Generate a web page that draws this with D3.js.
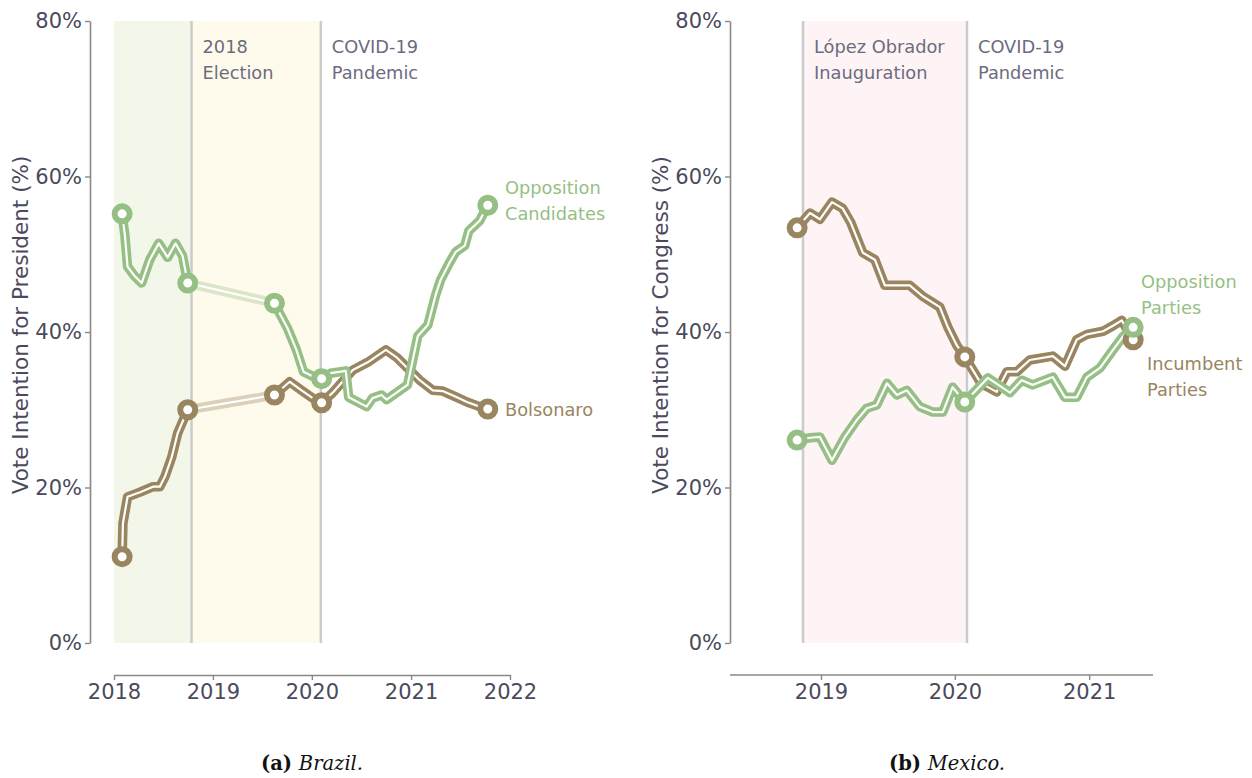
<!DOCTYPE html>
<html>
<head>
<meta charset="utf-8">
<script src="https://cdn.jsdelivr.net/npm/d3@7"></script>
<style>
  body { margin: 0; background: #fff; }
  text { font-family: "DejaVu Sans", sans-serif; }
</style>
</head>
<body>
<svg id="chart" width="1252" height="778"></svg>
<script>
// ---- Brazil: vote intention for president ----
var brOppDates = ["2018-01-31","2018-02-10","2018-02-20","2018-03-18","2018-04-13","2018-05-13","2018-06-15",
  "2018-07-18","2018-08-16","2018-09-11","2018-09-30",
  "2019-08-16","2019-09-04","2019-10-03","2019-11-05","2019-12-01","2020-01-04","2020-02-06","2020-03-10",
  "2020-05-05","2020-05-16","2020-07-21","2020-08-12","2020-09-14","2020-10-03","2020-12-19","2021-01-26",
  "2021-03-04","2021-04-02","2021-04-20","2021-05-24","2021-06-15","2021-07-18","2021-08-02","2021-09-11","2021-10-11"];
var brOppValues = [55.2,52.5,48.4,47.2,46.3,49.3,51.4,49.6,51.4,49.8,46.3,
  43.7,42.4,40.5,37.7,34.9,34.3,34.0,34.7,35.0,31.6,30.4,31.5,31.9,31.3,33.2,39.5,
  40.9,44.8,46.7,49.0,50.3,51.1,53.0,54.3,56.3];

var brBolDates = ["2018-01-31","2018-02-03","2018-02-20","2018-04-07","2018-05-25","2018-06-19","2018-07-08",
  "2018-08-02","2018-08-24","2018-09-30",
  "2019-08-16","2019-10-11","2019-11-28","2020-01-04","2020-02-06","2020-03-18","2020-05-31","2020-07-25",
  "2020-09-30","2020-11-10","2021-02-02","2021-03-22","2021-04-28","2021-06-19","2021-07-26","2021-09-11","2021-10-11"];
var brBolValues = [11.1,15.4,18.8,19.4,20.1,20.1,21.4,23.9,27.0,30.0,
  31.9,33.6,32.4,31.5,30.9,32.2,35.1,36.1,37.7,36.7,33.8,32.5,32.4,31.6,31.0,30.4,30.1];

var brGap = ["2018-09-30", "2019-08-16"];          // no polls between these dates
var brMarkers = ["2018-01-31","2018-09-30","2019-08-16","2020-02-06","2021-10-11"];
var brDomain = ["2018-01-01", "2022-01-01"];
var brTicks = ["2018","2019","2020","2021","2022"];
var brEvents = [
  {start: "2018-01-01", end: "2018-10-14", fill: "#f3f7ea", lines: []},
  {start: "2018-10-14", end: "2020-02-03", fill: "#fffbec", lines: ["2018", "Election"]},
  {start: "2020-02-03", end: null, fill: null, lines: ["COVID-19", "Pandemic"]}
];

// ---- Mexico: vote intention for congress ----
var mxIncDates = ["2018-10-28","2018-12-02","2018-12-29","2019-01-31","2019-03-01","2019-03-23","2019-04-25",
  "2019-05-28","2019-06-24","2019-08-31","2019-10-05","2019-11-21","2019-12-13","2020-01-06","2020-01-28",
  "2020-03-12","2020-04-24","2020-05-22","2020-06-18","2020-07-23","2020-09-24","2020-10-27","2020-11-28",
  "2020-12-26","2021-02-08","2021-03-07","2021-03-31","2021-05-01"];
var mxIncValues = [53.4,55.3,54.5,56.7,55.9,54.1,50.2,49.3,46.0,46.0,44.6,43.2,40.6,38.3,36.8,
  33.4,32.3,34.9,34.9,36.4,36.9,35.6,39.0,39.7,40.1,40.8,41.5,39.0];

var mxOppDates = ["2018-10-28","2018-12-02","2018-12-29","2019-01-31","2019-03-06","2019-04-09","2019-05-06",
  "2019-06-02","2019-06-30","2019-07-27","2019-08-23","2019-09-27","2019-11-02","2019-11-29","2019-12-26",
  "2020-01-28","2020-03-31","2020-05-30","2020-07-01","2020-07-31","2020-09-24","2020-10-27","2020-11-28",
  "2020-12-26","2021-01-31","2021-03-07","2021-04-03","2021-05-01"];
var mxOppValues = [26.1,26.4,26.5,23.5,26.4,28.7,30.2,30.6,33.4,31.9,32.5,30.4,29.7,29.7,32.9,
  31.0,34.1,32.2,33.8,33.2,34.2,31.6,31.6,34.2,35.4,37.7,39.4,40.6];

var mxMarkers = ["2018-10-28","2020-01-28","2021-05-01"];
var mxDomain = ["2018-04-28", "2021-06-24"];
var mxTicks = ["2019","2020","2021"];
var mxEvents = [
  {start: "2018-11-13", end: "2020-02-03", fill: "#fef4f5", lines: ["López Obrador", "Inauguration"]},
  {start: "2020-02-03", end: null, fill: null, lines: ["COVID-19", "Pandemic"]}
];

var yTicks = [0, 20, 40, 60, 80];

var green = "#96bf85", brown = "#99855f";
var tickColor = "#4b4a5c", noteColor = "#6d6b7f", axisColor = "#888";

var parseDate = d3.timeParse("%Y-%m-%d");
var parseYear = d3.timeParse("%Y");
var svg = d3.select("#chart");

function toPoints(dates, values) {
  return dates.map(function(d, i) { return {date: parseDate(d), value: values[i], key: d}; });
}

function drawPanel(p) {
  var g = svg.append("g");
  var x = d3.scaleTime()
      .domain(p.domain.map(parseDate))
      .range([p.xLeft, p.xRight]);
  var y = d3.scaleLinear().domain([0, 80]).range([643, 21]);

  // event shading and lines
  p.events.forEach(function(e) {
    var x0 = x(parseDate(e.start));
    if (e.fill) {
      g.append("rect")
          .attr("x", x0).attr("y", y(80))
          .attr("width", x(parseDate(e.end)) - x0)
          .attr("height", y(0) - y(80))
          .attr("fill", e.fill);
    }
  });
  p.events.forEach(function(e) {
    if (!e.lines.length) return;
    var x0 = x(parseDate(e.start));
    g.append("line")
        .attr("x1", x0).attr("x2", x0)
        .attr("y1", y(80)).attr("y2", y(0))
        .attr("stroke", "#cbcbcb").attr("stroke-width", 2.5);
    e.lines.forEach(function(t, i) {
      g.append("text")
          .attr("x", x0 + 11).attr("y", 53 + i * 25.5)
          .attr("fill", noteColor).attr("font-size", 17.8)
          .text(t);
    });
  });

  // axes
  var yAxis = g.append("g")
      .attr("transform", "translate(" + p.yAxisX + ",0)")
      .call(d3.axisLeft(y).tickValues(yTicks).tickSize(5).tickSizeOuter(0).tickPadding(3)
        .tickFormat(function(d) { return d + "%"; }));
  var xAxis = g.append("g")
      .attr("transform", "translate(0,675)")
      .call(d3.axisBottom(x).tickValues(p.ticks.map(parseYear)).tickSize(5).tickSizeOuter(0).tickPadding(4)
        .tickFormat(d3.timeFormat("%Y")));
  if (p.xAxisFromY) {
    xAxis.select(".domain").attr("d", "M" + p.yAxisX + ",0H" + p.xRight);
  }
  [yAxis, xAxis].forEach(function(a) {
    a.selectAll(".domain").attr("stroke", axisColor).attr("stroke-width", 1.6);
    a.selectAll(".tick line").attr("stroke", axisColor).attr("stroke-width", 1.4);
    a.selectAll(".tick text").attr("fill", tickColor).attr("font-size", 21)
        .style("font-family", "DejaVu Sans");
  });

  g.append("text")
      .attr("transform", "translate(" + (p.yAxisX - 62) + ",325) rotate(-90)")
      .attr("text-anchor", "middle")
      .attr("fill", tickColor).attr("font-size", 21.5)
      .text(p.yTitle);

  var line = d3.line()
      .x(function(d) { return x(d.date); })
      .y(function(d) { return y(d.value); });

  function strokePath(data, color, opacity) {
    g.append("path").datum(data)
        .attr("fill", "none").attr("stroke", color).attr("stroke-opacity", opacity)
        .attr("stroke-width", 9.5).attr("stroke-linejoin", "round").attr("stroke-linecap", "round")
        .attr("d", line);
    g.append("path").datum(data)
        .attr("fill", "none").attr("stroke", "#fff")
        .attr("stroke-width", 2.2).attr("stroke-linejoin", "round").attr("stroke-linecap", "round")
        .attr("d", line);
  }

  p.series.forEach(function(s) {
    var pts = toPoints(s.dates, s.values);
    if (p.gap) {
      var a = parseDate(p.gap[0]), b = parseDate(p.gap[1]);
      var before = pts.filter(function(d) { return d.date <= a; });
      var after = pts.filter(function(d) { return d.date >= b; });
      strokePath([before[before.length - 1], after[0]], s.color, 0.35);
      strokePath(before, s.color, 1);
      strokePath(after, s.color, 1);
    } else {
      strokePath(pts, s.color, 1);
    }
    s.pts = pts;
  });

  p.series.forEach(function(s) {
    g.selectAll(null)
        .data(s.pts.filter(function(d) { return p.markers.indexOf(d.key) >= 0; }))
      .enter().append("circle")
        .attr("cx", function(d) { return x(d.date); })
        .attr("cy", function(d) { return y(d.value); })
        .attr("r", 7.5)
        .attr("fill", "#fff").attr("stroke", s.color).attr("stroke-width", 6);
  });

  p.labels.forEach(function(l) {
    l.lines.forEach(function(t, i) {
      g.append("text")
          .attr("x", l.x).attr("y", l.y + i * 25.5)
          .attr("fill", l.color).attr("font-size", 17.8)
          .text(t);
    });
  });

  var cap = g.append("text")
      .attr("x", p.captionX).attr("y", 770)
      .attr("text-anchor", "middle")
      .attr("font-size", 19.5).attr("fill", "#111")
      .style("font-family", "'DejaVu Serif', serif");
  cap.append("tspan").attr("font-weight", "bold").text(p.caption[0] + " ");
  cap.append("tspan").attr("font-style", "italic").text(p.caption[1]);
}

drawPanel({
  domain: brDomain, ticks: brTicks, xLeft: 114, xRight: 510, yAxisX: 90,
  events: brEvents, gap: brGap, markers: brMarkers,
  yTitle: "Vote Intention for President (%)",
  series: [
    {dates: brBolDates, values: brBolValues, color: brown},
    {dates: brOppDates, values: brOppValues, color: green}
  ],
  labels: [
    {x: 505, y: 194, lines: ["Opposition", "Candidates"], color: green},
    {x: 505, y: 416, lines: ["Bolsonaro"], color: brown}
  ],
  captionX: 312, caption: ["(a)", "Brazil."]
});

drawPanel({
  domain: mxDomain, ticks: mxTicks, xLeft: 730, xRight: 1153, yAxisX: 730, xAxisFromY: true,
  events: mxEvents, gap: null, markers: mxMarkers,
  yTitle: "Vote Intention for Congress (%)",
  series: [
    {dates: mxIncDates, values: mxIncValues, color: brown},
    {dates: mxOppDates, values: mxOppValues, color: green}
  ],
  labels: [
    {x: 1141, y: 288, lines: ["Opposition", "Parties"], color: green},
    {x: 1147, y: 370, lines: ["Incumbent", "Parties"], color: brown}
  ],
  captionX: 947, caption: ["(b)", "Mexico."]
});
</script>
</body>
</html>
